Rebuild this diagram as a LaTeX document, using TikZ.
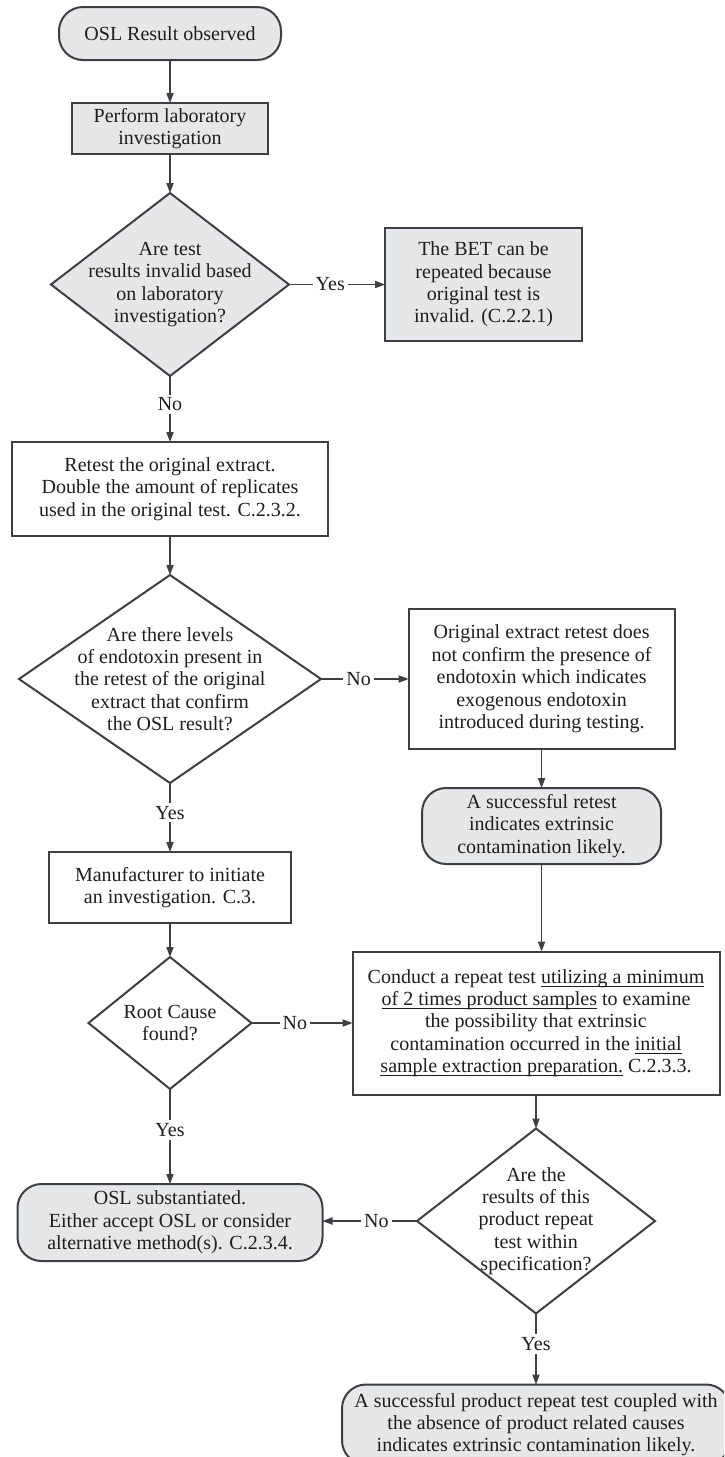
\documentclass[tikz,border=0pt]{standalone}
\usepackage{fontspec}
\setmainfont{Liberation Serif}
\usepackage{xcolor}
\usetikzlibrary{shapes.geometric,arrows.meta,positioning}
\definecolor{boxfill}{HTML}{E6E7E9}
\definecolor{boxline}{HTML}{3C3F43}
\definecolor{txt}{HTML}{1E1E1E}
\newcommand{\ulinetext}[1]{\underline{\smash{#1}}}

\begin{document}
\begin{tikzpicture}[
  x=0.5pt, y=-0.5pt,
  font=\fontsize{10}{11.2}\selectfont,
  text=txt,
  base/.style={draw=boxline, line width=1pt, outer sep=0pt, align=center, inner sep=2pt},
  term/.style={base, rounded corners=12pt, fill=boxfill},
  proc/.style={base, fill=boxfill},
  procw/.style={base, fill=white},
  decision/.style={base, diamond, inner sep=0pt},
  every label/.style={align=center},
  answer/.style={fill=white, inner sep=1.5pt, pos=0.43},
  flow/.style={draw=boxline, line width=0.6pt, ->},
  >={Triangle[length=5pt,width=3.6pt]}
]
\useasboundingbox (0,0) rectangle (724,1457);
\clip (0,0) rectangle (724,1457);

% Main column
\node[term, minimum width=111pt, minimum height=26.5pt] (start) at (170,33.5) {OSL Result observed};
\node[proc, below=21.5pt of start, minimum width=98pt, minimum height=25.5pt] (labinv) {Perform laboratory\\investigation};
\node[decision, fill=boxfill, below=19.5pt of labinv, minimum width=119pt, minimum height=91.5pt,
      label={center:{Are test\\results invalid based\\on laboratory\\investigation?}}] (invalid) {};
\node[procw, below=33pt of invalid, minimum width=158pt, minimum height=47pt] (retest) {Retest the original extract.\\Double the amount of replicates\\used in the original test. C.2.3.2.};
\node[decision, fill=white, below=19.5pt of retest, minimum width=151pt, minimum height=104pt,
      label={center:{Are there levels\\of endotoxin present in\\the retest of the original\\extract that confirm\\the OSL result?}}] (levels) {};
\node[procw, below=34.5pt of levels, minimum width=121pt, minimum height=35.5pt] (manuf) {Manufacturer to initiate\\an investigation. C.3.};
\node[decision, fill=white, below=17pt of manuf, minimum width=81.5pt, minimum height=66pt,
      label={center:{Root Cause\\found?}}] (root) {};
\node[term, below=47.5pt of root, minimum width=152.5pt, minimum height=38.5pt] (subst) {OSL substantiated.\\Either accept OSL or consider\\alternative method(s). C.2.3.4.};

% Right branch
\node[proc, right=48pt of invalid, minimum width=98.5pt, minimum height=56.5pt] (bet) {The BET can be\\repeated because\\original test is\\invalid. (C.2.2.1)};
\node[procw, right=43.8pt of levels, minimum width=133pt, minimum height=70pt] (orig) {Original extract retest does\\not confirm the presence of\\endotoxin which indicates\\exogenous endotoxin\\introduced during testing.};
\node[term, below=19.5pt of orig, minimum width=119.5pt, minimum height=38pt] (extr) {A successful retest\\indicates extrinsic\\contamination likely.};
\node[procw, right=50.5pt of root, minimum width=183.5pt, minimum height=71.5pt] (repeat) {Conduct a repeat test \ulinetext{utilizing a minimum}\\\ulinetext{of 2 times product samples} to examine\\the possibility that extrinsic\\contamination occurred in the \ulinetext{initial}\\\ulinetext{sample extraction preparation.} C.2.3.3.};
\node[decision, fill=white, below=17pt of repeat, minimum width=119pt, minimum height=92.5pt,
      label={center:{Are the\\results of this\\product repeat\\test within\\specification?}}] (spec) {};
\node[term, below=35.5pt of spec, minimum width=194pt, minimum height=40pt] (final) {A successful product repeat test coupled with\\the absence of product related causes\\indicates extrinsic contamination likely.};

% Edges
\draw[flow] (start) -- (labinv);
\draw[flow] (labinv) -- (invalid);
\draw[flow] (invalid) -- node[answer]{Yes} (bet);
\draw[flow] (invalid) -- node[answer]{No} (retest);
\draw[flow] (retest) -- (levels);
\draw[flow] (levels.east) -- node[answer]{No} (levels.east -| orig.west);
\draw[flow] (levels) -- node[answer]{Yes} (manuf);
\draw[flow] (orig) -- (extr);
\draw[flow] (extr) -- (extr.south |- repeat.north);
\draw[flow] (manuf) -- (root);
\draw[flow] (root) -- node[answer]{No} (repeat);
\draw[flow] (root) -- node[answer]{Yes} (subst);
\draw[flow] (repeat) -- (spec);
\draw[flow] (spec.west) -- node[answer]{No} (spec.west -| subst.east);
\draw[flow] (spec) -- node[answer]{Yes} (final);
\end{tikzpicture}
\end{document}
